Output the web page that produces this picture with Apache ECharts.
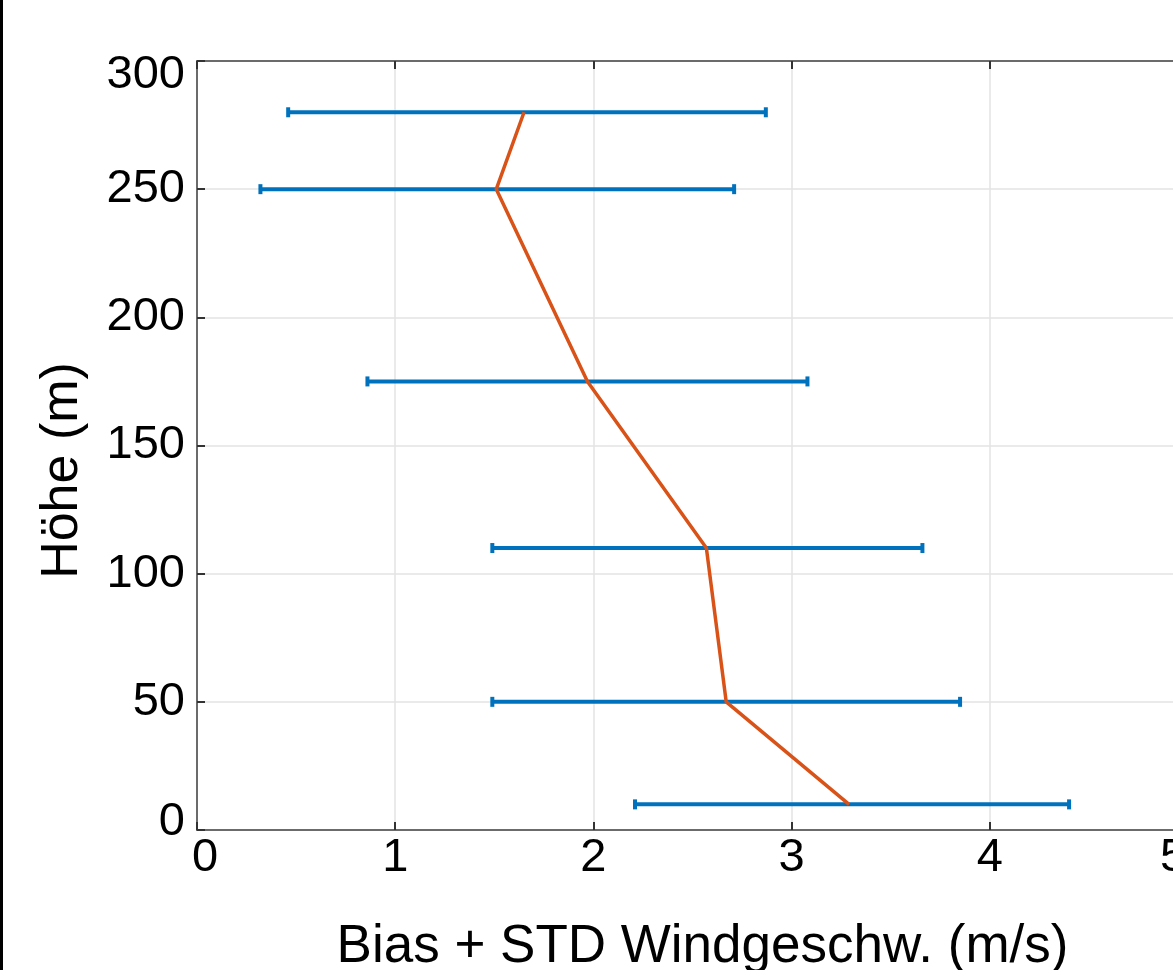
<!DOCTYPE html>
<html>
<head>
<meta charset="utf-8">
<script src="https://cdn.jsdelivr.net/npm/echarts@6/dist/echarts.min.js"></script>
<style>
  html, body { margin: 0; padding: 0; background: #fff; overflow: hidden; }
  #chart { width: 1210px; height: 970px; }
</style>
</head>
<body>
<div id="chart"></div>
<script>
// Höhen der Messpunkte (m)
const heights = [10, 50, 110, 175, 250, 280]
// Bias (orange Linie)
const bias = [3.29, 2.67, 2.57, 1.97, 1.51, 1.65]
// Fehlerbalken: untere / obere Grenze
const lower = [2.21, 1.49, 1.49, 0.86, 0.32, 0.46]
const upper = [4.40, 3.85, 3.66, 3.08, 2.71, 2.87]

const xTicks = [0, 1, 2, 3, 4, 5]
const yTicks = [0, 50, 100, 150, 200, 250, 300]

const blue = '#0072BD'
const orange = '#D95319'
const font = 'Liberation Sans, Arial, sans-serif'

const chart = echarts.init(document.getElementById('chart'))

const axisLine = { show: true, lineStyle: { color: '#6b6b6b', width: 2 } }
const axisTick = { show: true, inside: true, length: 8, lineStyle: { color: '#333', width: 2 } }
const splitLine = { show: true, lineStyle: { color: '#e3e3e3', width: 1.5 } }
const tickFont = { fontSize: 47, fontFamily: font, color: '#000' }

const option = {
  animation: false,
  backgroundColor: '#fff',
  grid: { left: 197, top: 61, width: 991, height: 769, containLabel: false, outerBoundsMode: 'none' },
  graphic: [
    // schwarzer Rand links
    { type: 'rect', shape: { x: 0, y: 0, width: 3, height: 970 }, style: { fill: '#000' } }
  ],
  xAxis: [
    {
      type: 'value', min: 0, max: 5, interval: 1,
      axisLine, axisTick, splitLine,
      axisLabel: {
        ...tickFont, margin: 5,
        formatter: v => {
          if (!xTicks.includes(v)) return ''
          if (v === 0) return '{first|0}'
          if (v === 5) return '{last|5}'
          return String(v)
        },
        rich: {
          first: { ...tickFont, padding: [0, 0, 0, 16] },
          last: { ...tickFont, padding: [0, 30, 0, 0] }
        }
      },
      name: 'Bias + STD Windgeschw. (m/s)',
      nameLocation: 'middle', nameGap: 91,
      nameTextStyle: { color: '#000', fontSize: 53, fontFamily: font, padding: [0, 0, 0, 20] }
    },
    {
      type: 'value', position: 'top', min: 0, max: 5, interval: 1,
      axisLine, axisTick, splitLine: { show: false }, axisLabel: { show: false }
    }
  ],
  yAxis: {
    type: 'value', min: 0, max: 300, interval: 50,
    axisLine, axisTick, splitLine,
    axisLabel: {
      ...tickFont, margin: 12,
      formatter: v => {
        if (!yTicks.includes(v)) return ''
        if (v === 300) return '{top|300}'
        if (v === 0) return '{bot|0}'
        return String(v)
      },
      rich: {
        top: { ...tickFont, padding: [28, 0, 0, 0] },
        bot: { ...tickFont, padding: [0, 0, 16, 0] }
      }
    },
    name: 'Höhe (m)',
    nameLocation: 'middle', nameGap: 108,
    nameTextStyle: { color: '#000', fontSize: 52, fontFamily: font, padding: [0, 50, 0, 0] }
  },
  series: [
    {
      type: 'custom',
      name: 'STD',
      renderItem: (params, api) => {
        const y = api.value(0)
        const p1 = api.coord([api.value(1), y])
        const p2 = api.coord([api.value(2), y])
        const cap = 5
        return {
          type: 'group',
          children: [
            { type: 'line', shape: { x1: p1[0], y1: p1[1], x2: p2[0], y2: p2[1] },
              style: { stroke: blue, lineWidth: 4 } },
            { type: 'line', shape: { x1: p1[0], y1: p1[1] - cap, x2: p1[0], y2: p1[1] + cap },
              style: { stroke: blue, lineWidth: 4 } },
            { type: 'line', shape: { x1: p2[0], y1: p2[1] - cap, x2: p2[0], y2: p2[1] + cap },
              style: { stroke: blue, lineWidth: 4 } }
          ]
        }
      },
      encode: { x: [1, 2], y: 0 },
      data: heights.map((h, i) => [h, lower[i], upper[i]]),
      z: 2
    },
    {
      type: 'line',
      name: 'Bias',
      data: heights.map((h, i) => [bias[i], h]),
      showSymbol: false,
      lineStyle: { color: orange, width: 3.5 },
      z: 3
    }
  ]
}

chart.setOption(option)
</script>
</body>
</html>
